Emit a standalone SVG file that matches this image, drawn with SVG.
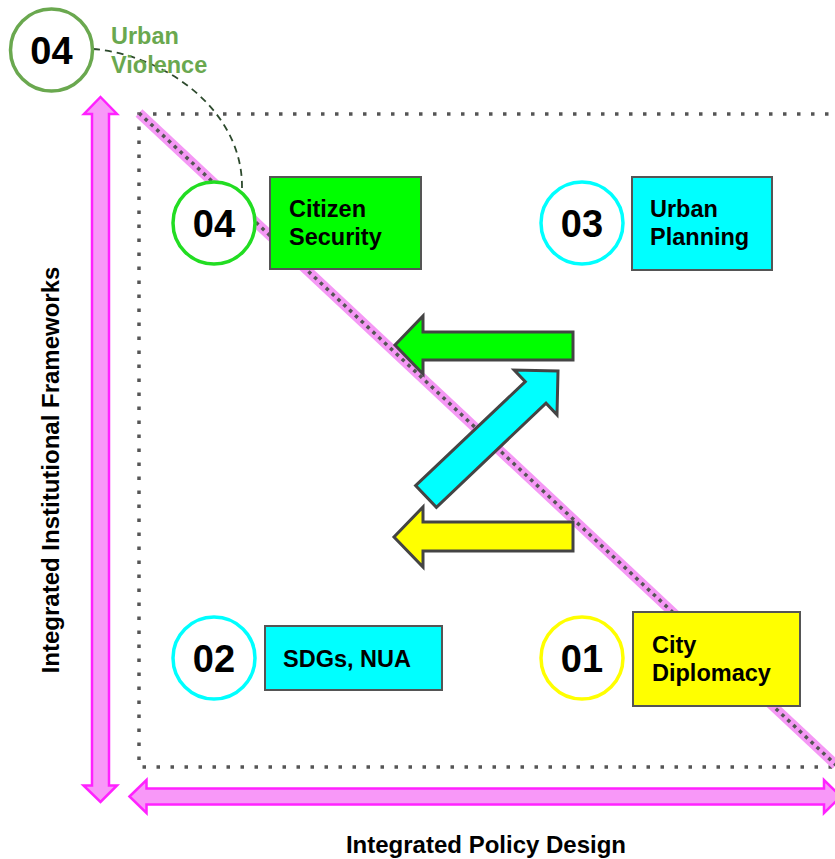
<svg xmlns="http://www.w3.org/2000/svg" width="835" height="859" viewBox="0 0 835 859">
<style>
.num{font-family:"Liberation Sans",Arial,sans-serif;font-weight:bold;font-size:38px;fill:#000;text-anchor:middle}
.lbl{font-family:"Liberation Sans",Arial,sans-serif;font-weight:bold;font-size:23.5px;fill:#000}
.axis{font-family:"Liberation Sans",Arial,sans-serif;font-weight:bold;font-size:24px;fill:#000;text-anchor:middle}
.box{stroke:#555;stroke-width:2}
.circ{fill:#fff;stroke-width:3.5}
.pink{fill:#f898f8;stroke:#ff22ff;stroke-width:2.5}
.blk{stroke:#444;stroke-width:3;stroke-linejoin:miter}
</style>
<rect width="835" height="859" fill="#fff"/>
<g id="frame">
<rect x="139" y="114" width="720" height="653" fill="none" stroke="#555" stroke-width="3.5" stroke-dasharray="3.5 10.5"/>
</g>
<g id="diagonal">
<line x1="139" y1="113" x2="836" y2="765" stroke="#f598f5" stroke-width="10"/>
<line x1="139" y1="113" x2="836" y2="765" stroke="#555" stroke-width="3.5" stroke-dasharray="3.5 4.5"/>
</g>
<g id="axis-vertical">
<polygon class="pink" points="100.5,97 117,114 109,114 109,785.5 117,785.5 100.5,802 83.5,785.5 92,785.5 92,114 84,114"/>
<text class="axis" transform="translate(59,470) rotate(-90)">Integrated Institutional Frameworks</text>
</g>
<g id="axis-horizontal">
<polygon class="pink" points="129.5,796.5 146.5,780 146.5,788.5 824,788.5 824,780 841,796.5 824,813 824,804.5 146.5,804.5 146.5,813"/>
<text class="axis" x="486" y="853">Integrated Policy Design</text>
</g>
<g id="connectors">
<path d="M93,49 C165,55 243,110 242,188" fill="none" stroke="#2d4a2d" stroke-width="1.8" stroke-dasharray="7 5"/>
<polygon class="blk" fill="#00ff00" points="573,332 573,360 423,360 423,374 395,345 423,316 423,332"/>
<polygon class="blk" fill="#00ffff" points="415.6,485.6 525.3,381.6 514.2,370 558,371 557,414.8 546,403.2 436.4,507.3"/>
<polygon class="blk" fill="#ffff00" points="573,522 573,551 423,551 423,567 394,537 423,507 423,522"/>
</g>
<g id="urban-violence">
<circle class="circ" cx="51.5" cy="50" r="41" stroke="#6aa84f"/>
<text class="num" x="51.5" y="64">04</text>
<text class="lbl" x="111" y="44" style="fill:#6aa84f">Urban</text>
<text class="lbl" x="111" y="73" style="fill:#6aa84f">Violence</text>
</g>
<g id="citizen-security">
<circle class="circ" cx="214" cy="223" r="41" stroke="#22dd22"/>
<text class="num" x="214" y="237">04</text>
<rect class="box" x="270" y="177" width="151" height="92" fill="#00ff00"/>
<text class="lbl" x="289" y="217">Citizen</text>
<text class="lbl" x="289" y="245">Security</text>
</g>
<g id="urban-planning">
<circle class="circ" cx="582" cy="223" r="41" stroke="#00ffff"/>
<text class="num" x="582" y="237">03</text>
<rect class="box" x="632" y="177" width="140" height="93" fill="#00ffff"/>
<text class="lbl" x="650" y="217">Urban</text>
<text class="lbl" x="650" y="245">Planning</text>
</g>
<g id="sdgs-nua">
<circle class="circ" cx="214" cy="658" r="41" stroke="#00ffff"/>
<text class="num" x="214" y="672">02</text>
<rect class="box" x="265" y="626" width="177" height="64" fill="#00ffff"/>
<text class="lbl" x="283" y="667">SDGs, NUA</text>
</g>
<g id="city-diplomacy">
<circle class="circ" cx="582" cy="658" r="41" stroke="#ffff00"/>
<text class="num" x="582" y="672">01</text>
<rect class="box" x="633" y="612" width="167" height="94" fill="#ffff00"/>
<text class="lbl" x="652" y="653">City</text>
<text class="lbl" x="652" y="681">Diplomacy</text>
</g>
</svg>
